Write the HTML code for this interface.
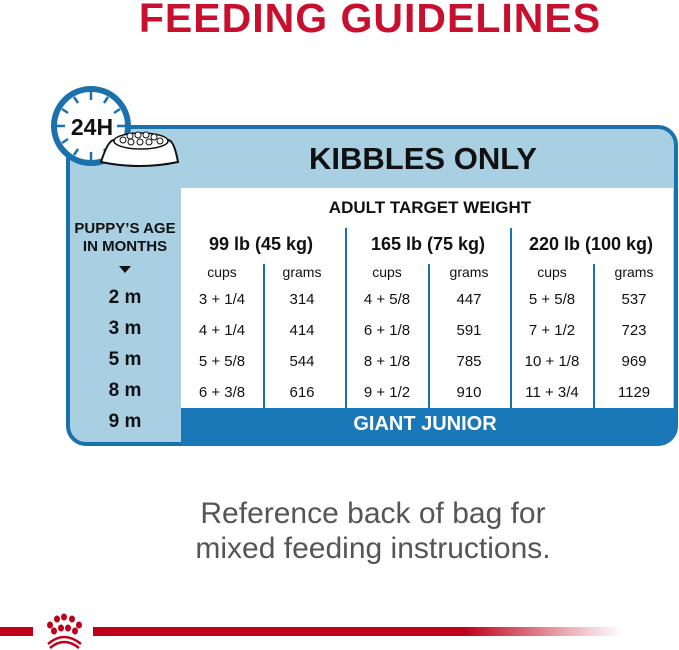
<!DOCTYPE html>
<html><head><meta charset="utf-8"><style>
*{margin:0;padding:0;box-sizing:border-box}
body{width:679px;height:650px;background:#fff;position:relative;overflow:hidden;font-family:"Liberation Sans",sans-serif}
.a{position:absolute;white-space:nowrap}
.c{transform:translateX(-50%)}
#title{left:370px;top:-5px;font-size:41px;font-weight:bold;color:#c8102e;letter-spacing:1px}
#box{left:66px;top:125px;width:612px;height:321px;background:#a9cfe3;border:4px solid #1b71ab;border-radius:0 20px 20px 20px}
#white{left:181px;top:188px;width:492px;height:221px;background:#fff}
#bar{left:181px;top:408px;width:496px;height:38px;background:#1b78b8;border-radius:0 0 20px 0}
.vl{position:absolute;width:2px;background:#1b71ab}
.t{font-size:14px;color:#111}
.h{font-size:18px;font-weight:bold;color:#111}
.age{font-size:19px;font-weight:bold;color:#111}
</style></head><body>
<div class="a c" id="title">FEEDING GUIDELINES</div>
<div class="a" id="box"></div>
<div class="a" id="white"></div>
<div class="a" id="bar"></div>
<div class="a c" style="left:425px;top:413px;font-size:20px;font-weight:bold;color:#fff">GIANT JUNIOR</div>
<div class="a c" style="left:423px;top:141px;font-size:31px;font-weight:bold;color:#111">KIBBLES ONLY</div>
<div class="a c" style="left:430px;top:198px;font-size:17px;font-weight:bold;color:#111">ADULT TARGET WEIGHT</div>
<div class="vl" style="left:345px;top:228px;height:181px"></div>
<div class="vl" style="left:510px;top:228px;height:181px"></div>
<div class="vl" style="left:263px;top:264px;height:145px"></div>
<div class="vl" style="left:428px;top:264px;height:145px"></div>
<div class="vl" style="left:593px;top:264px;height:145px"></div>
<div class="a c h" style="left:261px;top:234px">99 lb (45 kg)</div>
<div class="a c h" style="left:428px;top:234px">165 lb (75 kg)</div>
<div class="a c h" style="left:591px;top:234px">220 lb (100 kg)</div>
<div class="a c" style="left:125px;top:220px;font-size:15px;font-weight:bold;color:#111;text-align:center;line-height:18px">PUPPY’S AGE<br>IN MONTHS</div>
<div class="a c" style="left:125px;top:266px;width:0;height:0;border-left:6px solid transparent;border-right:6px solid transparent;border-top:7px solid #111;transform:translateX(-50%)"></div>
<div class="a c age" style="left:125px;top:287px">2 m</div>
<div class="a c age" style="left:125px;top:318px">3 m</div>
<div class="a c age" style="left:125px;top:349px">5 m</div>
<div class="a c age" style="left:125px;top:380px">8 m</div>
<div class="a c age" style="left:125px;top:411px">9 m</div>
<div id="tbl"></div>
<script>
var cols=[222,302,387,469,552,634];
var rows=[["cups","grams","cups","grams","cups","grams"],["3 + 1/4","314","4 + 5/8","447","5 + 5/8","537"],["4 + 1/4","414","6 + 1/8","591","7 + 1/2","723"],["5 + 5/8","544","8 + 1/8","785","10 + 1/8","969"],["6 + 3/8","616","9 + 1/2","910","11 + 3/4","1129"]];
var ys=[264,291,322,353,384];var h="";
rows.forEach(function(r,i){r.forEach(function(v,j){h+='<div class="a c t" style="left:'+cols[j]+'px;top:'+ys[i]+'px;font-size:'+(i?15:14)+'px">'+v+'</div>';});});
document.getElementById('tbl').innerHTML=h;
</script>
<svg class="a" style="left:0;top:80px" width="190" height="100">
<circle cx="91" cy="46" r="37" fill="#fff" stroke="#1b71ab" stroke-width="6"/>
<g stroke="#1b71ab" stroke-width="2.5">
<line x1="91" y1="12" x2="91" y2="20"/><line x1="91" y1="72" x2="91" y2="80"/><line x1="57" y1="46" x2="65" y2="46"/><line x1="117" y1="46" x2="125" y2="46"/>
<line x1="108" y1="17" x2="104" y2="23"/><line x1="74" y1="17" x2="78" y2="23"/><line x1="62" y1="29" x2="68" y2="33"/><line x1="62" y1="63" x2="68" y2="59"/><line x1="74" y1="75" x2="78" y2="69"/><line x1="108" y1="75" x2="104" y2="69"/><line x1="120" y1="29" x2="114" y2="33"/>
</g>
<text x="92" y="55" font-family="Liberation Sans" font-weight="bold" font-size="23" text-anchor="middle" fill="#111">24H</text>
<path d="M101 82 Q108 60 114 60 L168 60 Q174 60 178 82 Q140 90 101 82Z" fill="#fff" stroke="#111" stroke-width="2"/>
<ellipse cx="141" cy="61" rx="27" ry="8" fill="#fff" stroke="#111" stroke-width="1.5"/>
<g fill="#fff" stroke="#111" stroke-width="1"><circle cx="123" cy="60" r="3"/><circle cx="130" cy="56" r="3"/><circle cx="138" cy="55" r="3"/><circle cx="146" cy="55" r="3"/><circle cx="154" cy="57" r="3"/><circle cx="160" cy="61" r="3"/><circle cx="131" cy="62" r="3"/><circle cx="140" cy="62" r="3"/><circle cx="149" cy="62" r="3"/></g>
</svg>
<div class="a c" style="left:373px;top:496px;font-size:30px;color:#555;text-align:center;line-height:35px">Reference back of bag for<br>mixed feeding instructions.</div>
<div class="a" style="left:0;top:627px;width:33px;height:9px;background:#c0001a"></div>
<div class="a" style="left:93px;top:627px;width:530px;height:9px;background:linear-gradient(90deg,#c0001a 0%,#c0001a 70%,rgba(192,0,26,0.3) 90%,rgba(192,0,26,0) 100%)"></div>
<svg class="a" style="left:35px;top:610px" width="58" height="40">
<g fill="#c0001a"><ellipse cx="15" cy="15" rx="3" ry="3.5"/><ellipse cx="22" cy="9" rx="3" ry="3.5"/><ellipse cx="29" cy="7" rx="3" ry="3.5"/><ellipse cx="37" cy="9" rx="3" ry="3.5"/><ellipse cx="44" cy="15" rx="3" ry="3.5"/>
<ellipse cx="19" cy="21" rx="3" ry="3.5"/><ellipse cx="26" cy="18" rx="3" ry="3.5"/><ellipse cx="33" cy="18" rx="3" ry="3.5"/><ellipse cx="40" cy="21" rx="3" ry="3.5"/></g>
<path d="M13 34 Q29 20 46 34" stroke="#c0001a" stroke-width="2.5" fill="none"/><path d="M15 38 Q29 26 44 38" stroke="#c0001a" stroke-width="2.5" fill="none"/>
</svg>
</body></html>
